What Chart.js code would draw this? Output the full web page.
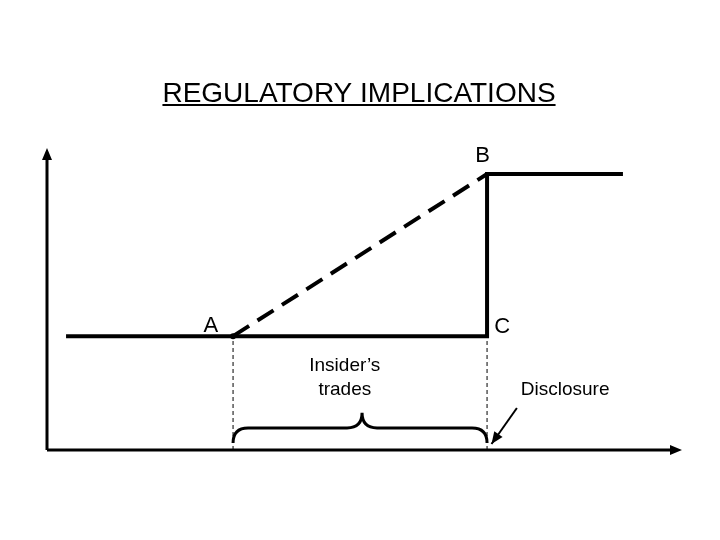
<!DOCTYPE html>
<html>
<head>
<meta charset="utf-8">
<script src="https://cdn.jsdelivr.net/npm/chart.js@4/dist/chart.umd.min.js"></script>
<style>
  html, body { margin: 0; padding: 0; background: #fff; }
  #wrap { width: 720px; height: 540px; }
</style>
</head>
<body>
<div id="wrap"><canvas id="myChart" width="720" height="540"></canvas></div>
<script>
// price path: flat, jump at disclosure, flat again (time 0..100, price 0..100)
const priceX = [3, 69.3, 69.3, 90.7]
const priceY = [37.7, 37.7, 91.4, 91.4]
// price drift while insider trades (A -> B)
const driftX = [29.3, 69.3]
const driftY = [37.7, 91.4]
// guide lines down to the time axis at A and at disclosure
const guideX = [29.3, 69.3]
const guideTop = 37.7

const title = 'REGULATORY IMPLICATIONS'
const pointLabels = [
  { text: 'A', x: 25.8, y: 39.1 },
  { text: 'B', x: 68.6, y: 95.4 },
  { text: 'C', x: 71.7, y: 38.7 }
]
const tradesLabel = ['Insider\u2019s', 'trades']
const disclosureLabel = 'Disclosure'

const font = '"Liberation Sans", Arial, sans-serif'

const drawing = {
  id: 'drawing',
  afterDatasetsDraw(chart) {
    const ctx = chart.ctx
    const xs = chart.scales.x, ys = chart.scales.y
    const px = v => xs.getPixelForValue(v)
    const py = v => ys.getPixelForValue(v)
    const x0 = px(0), y0 = py(0), x1 = px(100), y1 = py(100)
    ctx.save()
    ctx.strokeStyle = '#000'
    ctx.fillStyle = '#000'

    // axes
    ctx.lineWidth = 3
    ctx.beginPath()
    ctx.moveTo(x0, y0); ctx.lineTo(x0, y1 + 6)
    ctx.moveTo(x0, y0); ctx.lineTo(x1 - 6, y0)
    ctx.stroke()
    ctx.beginPath()
    ctx.moveTo(x0, y1); ctx.lineTo(x0 - 5, y1 + 12); ctx.lineTo(x0 + 5, y1 + 12); ctx.closePath()
    ctx.moveTo(x1, y0); ctx.lineTo(x1 - 12, y0 - 5); ctx.lineTo(x1 - 12, y0 + 5); ctx.closePath()
    ctx.fill()

    // brace under the trading window
    const bl = px(guideX[0]), br = px(guideX[1]), bm = (bl + br) / 2 + 2
    const yb = py(2.3), yf = py(7.3), yt = py(12.3)
    ctx.lineWidth = 3
    ctx.beginPath()
    ctx.moveTo(bl, yb)
    ctx.quadraticCurveTo(bl, yf, bl + 15, yf)
    ctx.lineTo(bm - 15, yf)
    ctx.quadraticCurveTo(bm, yf, bm, yt)
    ctx.quadraticCurveTo(bm, yf, bm + 15, yf)
    ctx.lineTo(br - 15, yf)
    ctx.quadraticCurveTo(br, yf, br, yb)
    ctx.stroke()

    // disclosure arrow
    const ax0 = px(74.0), ay0 = py(13.9), ax1 = px(70.0), ay1 = py(2.0)
    ctx.lineWidth = 2
    ctx.beginPath(); ctx.moveTo(ax0, ay0); ctx.lineTo(ax1, ay1); ctx.stroke()
    const ang = Math.atan2(ay1 - ay0, ax1 - ax0)
    ctx.beginPath()
    ctx.moveTo(ax1, ay1)
    ctx.lineTo(ax1 - 13 * Math.cos(ang - 0.4), ay1 - 13 * Math.sin(ang - 0.4))
    ctx.lineTo(ax1 - 13 * Math.cos(ang + 0.4), ay1 - 13 * Math.sin(ang + 0.4))
    ctx.closePath(); ctx.fill()

    // point labels
    ctx.textAlign = 'center'
    ctx.textBaseline = 'alphabetic'
    ctx.font = '22px ' + font
    pointLabels.forEach(l => ctx.fillText(l.text, px(l.x), py(l.y)))

    ctx.font = '19px ' + font
    ctx.fillText(tradesLabel[0], px(46.9), py(26.2))
    ctx.fillText(tradesLabel[1], px(46.9), py(18.3))
    ctx.fillText(disclosureLabel, px(81.6), py(18.3))

    // title, underlined
    ctx.font = '28px ' + font
    const tx = 359, ty = 102
    ctx.fillText(title, tx, ty)
    const w = ctx.measureText(title).width
    ctx.lineWidth = 2
    ctx.beginPath(); ctx.moveTo(tx - w / 2, ty + 3); ctx.lineTo(tx + w / 2, ty + 3); ctx.stroke()
    ctx.restore()
  }
}

const toPts = (xsArr, ysArr) => xsArr.map((x, i) => ({ x: x, y: ysArr[i] }))

var ctx = document.getElementById('myChart').getContext('2d');
var myChart = new Chart(ctx, {
  type: 'line',
  data: {
    datasets: [{
        data: toPts(priceX, priceY),
        borderColor: '#000',
        borderWidth: 4,
        pointRadius: 0,
        fill: false,
      }, {
        data: toPts(driftX, driftY),
        borderColor: '#000',
        borderWidth: 4,
        borderDash: [19, 10],
        pointRadius: [3, 0],
        pointBackgroundColor: '#000',
        pointBorderWidth: 0,
        fill: false,
      }, {
        data: [{ x: guideX[0], y: 0 }, { x: guideX[0], y: guideTop }],
        borderColor: '#000',
        borderWidth: 1,
        borderDash: [4, 3],
        pointRadius: 0,
      }, {
        data: [{ x: guideX[1], y: 0 }, { x: guideX[1], y: guideTop }],
        borderColor: '#000',
        borderWidth: 1,
        borderDash: [4, 3],
        pointRadius: 0,
      }
    ]
  },
  options: {
    responsive: false,
    animation: false,
    devicePixelRatio: 1,
    layout: { padding: { left: 47, right: 38, top: 148, bottom: 90 } },
    scales: {
      x: { type: 'linear', min: 0, max: 100, display: false },
      y: { type: 'linear', min: 0, max: 100, display: false }
    },
    elements: { line: { tension: 0, capBezierPoints: false } },
    datasets: { line: { clip: false } },
    plugins: {
      legend: { display: false },
      tooltip: { enabled: false }
    }
  },
  plugins: [drawing]
});
</script>
</body>
</html>
